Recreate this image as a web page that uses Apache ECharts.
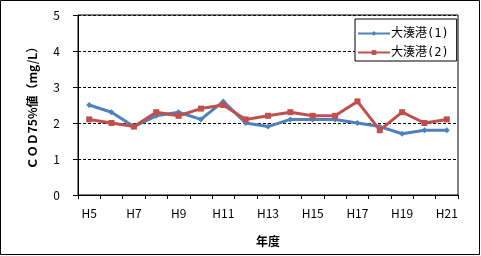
<!DOCTYPE html>
<html><head><meta charset="utf-8">
<script src="https://cdn.jsdelivr.net/npm/echarts@6/dist/echarts.min.js"></script>
<style>html,body{margin:0;padding:0;background:#fff}#c{width:481px;height:256px}</style>
</head><body><div id="c"></div>
<script>
const categories = ['H5','H6','H7','H8','H9','H10','H11','H12','H13','H14','H15','H16','H17','H18','H19','H20','H21'];
const series1Name = '大湊港(1)';
const series1 = [2.5,2.3,1.9,2.2,2.3,2.1,2.6,2.0,1.9,2.1,2.1,2.1,2.0,1.9,1.7,1.8,1.8];
const series2Name = '大湊港(2)';
const series2 = [2.1,2.0,1.9,2.3,2.2,2.4,2.5,2.1,2.2,2.3,2.2,2.2,2.6,1.8,2.3,2.0,2.1];
const yTicks = [0,1,2,3,4,5];

const FONT = '"Noto Sans CJK JP", sans-serif';
const LEGEND_FONT = '"DejaVu Sans Mono", "Noto Sans CJK JP", monospace';
const chart = echarts.init(document.getElementById('c'), null, {renderer:'canvas'});
chart.setOption({
  animation:false,
  backgroundColor:'#fff',
  textStyle:{fontFamily:FONT},
  graphic:[{type:'rect',shape:{x:0.5,y:0.5,width:479,height:254},style:{fill:'none',stroke:'#000',lineWidth:1},z:100}],
  grid:{left:78,right:23,top:15,bottom:61,show:true,borderColor:'#000',borderWidth:1,backgroundColor:'#fff'},
  legend:{
    orient:'vertical',left:355,top:19,
    padding:[8,8,2,2],itemGap:6,itemWidth:32,itemHeight:6,
    borderColor:'#000',borderWidth:1,backgroundColor:'#fff',borderRadius:0,
    textStyle:{fontFamily:LEGEND_FONT,fontSize:12,color:'#000',padding:[0,0,0,-4],lineHeight:13},
    data:[series1Name,series2Name]
  },
  xAxis:{
    type:'category',data:categories,boundaryGap:true,
    axisLine:{lineStyle:{color:'#000',width:1}},
    axisTick:{show:true,interval:0,length:4,lineStyle:{color:'#000'}},
    axisLabel:{interval:1,color:'#000',fontSize:12,margin:12,fontFamily:FONT},
    name:'年度',nameLocation:'middle',nameGap:40,
    nameTextStyle:{fontWeight:'bold',fontSize:12,color:'#000',fontFamily:FONT},
    splitLine:{show:false}
  },
  yAxis:{
    type:'value',min:yTicks[0],max:yTicks[yTicks.length-1],interval:1,
    axisLine:{show:true,lineStyle:{color:'#000',width:1}},
    axisTick:{show:true,length:5,lineStyle:{color:'#000'}},
    axisLabel:{color:'#000',fontSize:12,margin:18,fontFamily:FONT},
    splitLine:{show:true,lineStyle:{color:'#000',type:[3,2],width:1}},
    name:'ＣＯＤ75%値（mg/L）',nameLocation:'middle',nameRotate:90,nameGap:40,
    nameTextStyle:{fontWeight:'bold',fontSize:12,color:'#000',fontFamily:FONT}
  },
  series:[
    {name:series1Name,type:'line',data:series1,symbol:'diamond',symbolSize:6,
     itemStyle:{color:'#4F81BD'},lineStyle:{color:'#4F81BD',width:3},z:3},
    {name:series2Name,type:'line',data:series2,symbol:'rect',symbolSize:6,
     itemStyle:{color:'#C0504D'},lineStyle:{color:'#C0504D',width:3},z:4}
  ]
});
</script></body></html>
